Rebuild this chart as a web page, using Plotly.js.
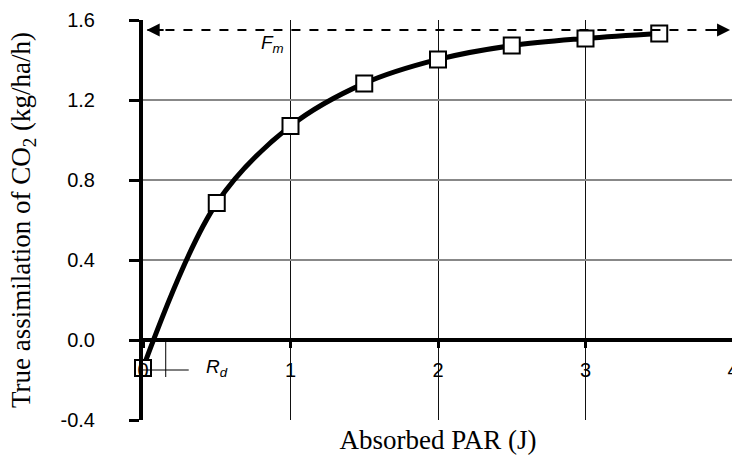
<!DOCTYPE html>
<html>
<head>
<meta charset="utf-8">
<script src="https://cdn.plot.ly/plotly-3.0.1.min.js"></script>
<style>
html,body{margin:0;padding:0;overflow:hidden;background:#fff;}
#chart{width:734px;height:459px;}
</style>
</head>
<body>
<div id="chart"></div>
<script>
// Data
const absorbedPAR = [0, 0.5, 1, 1.5, 2, 2.5, 3, 3.5];
const assimilation = [-0.14, 0.685, 1.07, 1.283, 1.403, 1.472, 1.508, 1.533];
const xTicks = [0, 1, 2, 3, 4];
const xTickLabels = ['0', '1', '2', '3', '4'];
const yTicks = [-0.4, 0.0, 0.4, 0.8, 1.2, 1.6];
const yTickLabels = ['-0.4', '0.0', '0.4', '0.8', '1.2', '1.6'];
const Fm = [1.55];
const Rd = [0.14];

const tickFont = {family: 'Liberation Sans, Arial, sans-serif', size: 20, color: '#000'};
const titleFont = {family: 'Liberation Serif, Times New Roman, serif', size: 27, color: '#000'};

const traces = [
  {
    x: absorbedPAR, y: assimilation, type: 'scatter', mode: 'lines+markers',
    line: {color: '#000', width: 5, shape: 'spline', smoothing: 1},
    marker: {symbol: 'square', size: 16, color: '#fff', line: {color: '#000', width: 2}},
    cliponaxis: false, showlegend: false, hoverinfo: 'skip'
  },
  {x: [], y: [], xaxis: 'x2', type: 'scatter', mode: 'markers', showlegend: false, hoverinfo: 'skip'}
];

const layout = {
  width: 734, height: 459,
  margin: {l: 143, r: 1, t: 20, b: 39},
  paper_bgcolor: '#fff', plot_bgcolor: '#fff',
  showlegend: false,
  font: tickFont,
  xaxis: {
    range: [0, 4], anchor: 'y', side: 'bottom',
    showgrid: true, gridcolor: '#111', gridwidth: 1,
    tickvals: xTicks, ticktext: xTickLabels,
    showticklabels: false, ticks: '', zeroline: false, showline: false,
    title: {text: 'Absorbed PAR (J)', font: titleFont, standoff: 10}
  },
  xaxis2: {
    range: [0, 4], overlaying: 'x', anchor: 'free', position: 0.2,
    showgrid: false, zeroline: false,
    showline: true, linecolor: '#000', linewidth: 4,
    tickvals: xTicks, ticktext: xTickLabels,
    ticks: 'outside', ticklen: 6, tickwidth: 3, tickcolor: '#000',
    ticklabelstandoff: 5, ticklabeloverflow: 'allow',
    tickfont: tickFont
  },
  yaxis: {
    range: [-0.4, 1.6],
    showgrid: true, gridcolor: '#888', gridwidth: 1.5,
    zeroline: false,
    showline: true, linecolor: '#000', linewidth: 4,
    tickvals: yTicks, ticktext: yTickLabels,
    ticks: 'outside', ticklen: 10, tickwidth: 3, tickcolor: '#000',
    ticklabelstandoff: 30, tickfont: tickFont,
    title: {text: 'True assimilation of CO<sub>2</sub> (kg/ha/h)', font: titleFont, standoff: 23}
  },
  shapes: [
    {type: 'line', xref: 'x', yref: 'y', x0: 0.03, x1: 3.95, y0: Fm[0], y1: Fm[0], line: {color: '#000', width: 2, dash: 'dash'}},
    {type: 'line', xref: 'x', yref: 'y', x0: 0.154, x1: 0.154, y0: 0, y1: -0.185, line: {color: '#000', width: 1}},
    {type: 'line', xref: 'x', yref: 'y', x0: 0, x1: 0.31, y0: -0.15, y1: -0.15, line: {color: '#000', width: 1}}
  ],
  annotations: [
    {x: 0.025, y: Fm[0], ax: 0.15, ay: Fm[0], axref: 'x', ayref: 'y', xref: 'x', yref: 'y', text: '', showarrow: true, arrowhead: 2, arrowsize: 1.3, arrowwidth: 2, arrowcolor: '#000'},
    {x: 3.98, y: Fm[0], ax: 3.85, ay: Fm[0], axref: 'x', ayref: 'y', xref: 'x', yref: 'y', text: '', showarrow: true, arrowhead: 2, arrowsize: 1.3, arrowwidth: 2, arrowcolor: '#000'},
    {x: 0.88, y: 1.48, xref: 'x', yref: 'y', text: '<i>F<sub>m</sub></i>', showarrow: false, font: {family: 'Liberation Sans, Arial, sans-serif', size: 19}},
    {x: 0.5, y: -Rd[0], xref: 'x', yref: 'y', text: '<i>R<sub>d</sub></i>', showarrow: false, font: {family: 'Liberation Sans, Arial, sans-serif', size: 19}}
  ]
};

Plotly.newPlot('chart', traces, layout, {staticPlot: true, displayModeBar: false});
</script>
</body>
</html>
